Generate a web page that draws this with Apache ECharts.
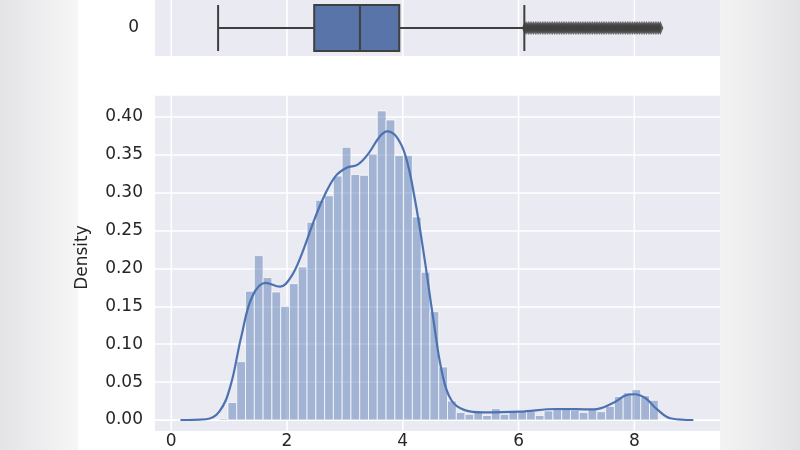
<!DOCTYPE html>
<html><head><meta charset="utf-8">
<script src="https://cdn.jsdelivr.net/npm/echarts@6/dist/echarts.min.js"></script>
<style>html,body{margin:0;padding:0;background:#fff}#c{width:800px;height:450px}</style>
</head><body><div id="c"></div>
<script>
const binStart = 0.829, binWidth = 0.1517;
const binHeights = [0.002,0.023,0.077,0.170,0.217,0.188,0.169,0.150,0.180,0.202,
 0.261,0.290,0.296,0.322,0.360,0.324,0.323,0.351,0.408,0.396,
 0.349,0.349,0.268,0.195,0.143,0.070,0.025,0.010,0.0075,0.010,
 0.006,0.015,0.0075,0.011,0.011,0.011,0.006,0.012,0.014,0.014,
 0.013,0.010,0.014,0.011,0.018,0.031,0.036,0.040,0.032,0.026];
const kdeX = [0.16,0.6,0.83,1.02,1.21,1.40,1.63,1.88,2.07,2.26,2.45,2.64,2.84,3.03,3.22,3.41,3.60,3.73,3.89,4.05,4.21,4.37,4.53,4.68,4.84,5.07,5.39,6.02,6.66,7.30,7.62,7.87,8.00,8.19,8.38,8.64,9.02];
const kdeY = [0,0.001,0.011,0.044,0.110,0.163,0.181,0.176,0.189,0.220,0.260,0.295,0.322,0.333,0.337,0.352,0.374,0.381,0.374,0.348,0.291,0.216,0.132,0.062,0.026,0.013,0.010,0.011,0.0145,0.014,0.022,0.033,0.034,0.029,0.015,0.002,0];
const boxStats = [0.81, 2.47, 3.26, 3.94, 6.10];
const outliers = [6.11,6.14,6.17,6.2,6.23,6.26,6.29,6.32,6.35,6.38,6.41,6.44,6.47,6.5,6.53,6.56,6.59,6.62,6.65,6.68,6.71,6.74,6.77,6.8,6.83,6.86,6.89,6.92,6.95,6.98,7.01,7.04,7.07,7.1,7.13,7.16,7.19,7.22,7.25,7.28,7.31,7.34,7.37,7.4,7.43,7.46,7.49,7.52,7.55,7.58,7.61,7.64,7.67,7.7,7.73,7.76,7.79,7.82,7.85,7.88,7.91,7.94,7.97,8.0,8.03,8.06,8.09,8.12,8.15,8.18,8.21,8.24,8.27,8.3,8.33,8.36,8.39,8.42,8.45];
const xTicks = [0,2,4,6,8];
const yLabels = ['0'];

const font = 'DejaVu Sans';
const chart = echarts.init(document.getElementById('c'));
const bins = binHeights.map((h,i)=>[binStart+i*binWidth, binStart+(i+1)*binWidth, h]);
const vline = (y1,y2)=>(params,api)=>{
  const a=api.coord([api.value(0),0]);
  return {type:'line',shape:{x1:a[0],y1:y1,x2:a[0],y2:y2},style:{stroke:'#fff',lineWidth:1.5}};
};
chart.setOption({
  animation:false,
  textStyle:{fontFamily:font},
  graphic:[
    {type:'rect',shape:{x:0,y:0,width:78,height:450},style:{fill:new echarts.graphic.LinearGradient(0,0,1,0,[{offset:0,color:'#e4e4e6'},{offset:1,color:'#f6f6f7'}])},z:-10},
    {type:'rect',shape:{x:720,y:0,width:80,height:450},style:{fill:new echarts.graphic.LinearGradient(0,0,1,0,[{offset:0,color:'#f3f3f4'},{offset:1,color:'#e2e2e4'}])},z:-10},
    {type:'rect',shape:{x:155,y:421,width:565,height:10},style:{fill:'#eaeaf2'},z:-5}
  ],
  grid:[
    {left:155,right:80,top:0,height:56,show:true,backgroundColor:'#eaeaf2',borderWidth:0},
    {left:155,right:80,top:95,bottom:29,show:true,backgroundColor:'#eaeaf2',borderWidth:0}
  ],
  xAxis:[
    {gridIndex:0,type:'value',min:-0.28,max:9.48,
     axisLine:{show:false},axisTick:{show:false},axisLabel:{show:false},splitLine:{show:false}},
    {gridIndex:1,type:'value',min:-0.28,max:9.48,
     axisLine:{show:false},axisTick:{show:false},
     axisLabel:{fontSize:17,color:'#262626',margin:13,customValues:xTicks},
     splitLine:{show:false}}
  ],
  yAxis:[
    {gridIndex:0,type:'category',data:yLabels,axisLine:{show:false},axisTick:{show:false},
     axisLabel:{fontSize:17,color:'#262626',margin:16}},
    {gridIndex:1,type:'value',min:0,max:0.429,interval:0.05,
     axisLine:{show:false},axisTick:{show:false},
     axisLabel:{fontSize:17,color:'#262626',margin:12,formatter:v=>v.toFixed(2),showMaxLabel:false},
     splitLine:{lineStyle:{color:'#fff',width:1.5}},
     name:'Density',nameLocation:'middle',nameGap:64,nameTextStyle:{fontSize:17,color:'#262626'}}
  ],
  series:[
    {type:'custom',xAxisIndex:0,yAxisIndex:0,z:0,silent:true,renderItem:vline(0,56),data:xTicks.map(v=>[v])},
    {type:'custom',xAxisIndex:1,yAxisIndex:1,z:0,silent:true,renderItem:vline(95,431),data:xTicks.map(v=>[v])},
    {type:'custom',xAxisIndex:1,yAxisIndex:1,z:1,
     renderItem:(params,api)=>{
       const p0=api.coord([api.value(0),api.value(2)]);
       const p1=api.coord([api.value(1),0]);
       return {type:'rect',shape:{x:p0[0],y:p0[1],width:p1[0]-p0[0],height:p1[1]-p0[1]},
         style:{fill:'rgba(76,114,176,0.45)',stroke:'rgba(255,255,255,0.7)',lineWidth:1}};
     },
     data:bins},
    {type:'line',xAxisIndex:1,yAxisIndex:1,smooth:0.4,showSymbol:false,z:3,
     lineStyle:{color:'#4c72b0',width:2.2},
     data:kdeX.map((x,i)=>[x,kdeY[i]])},
    {type:'boxplot',xAxisIndex:0,yAxisIndex:0,layout:'horizontal',boxWidth:['82%','82%'],z:2,
     itemStyle:{color:'#5874a8',borderColor:'#3f3f3f',borderWidth:2},
     data:[boxStats]},
    {type:'scatter',xAxisIndex:0,yAxisIndex:0,symbol:'diamond',symbolSize:[6,14],z:3,
     itemStyle:{color:'#3f3f3f'},
     data:outliers.map(v=>[v,'0'])}
  ]
});
</script></body></html>
